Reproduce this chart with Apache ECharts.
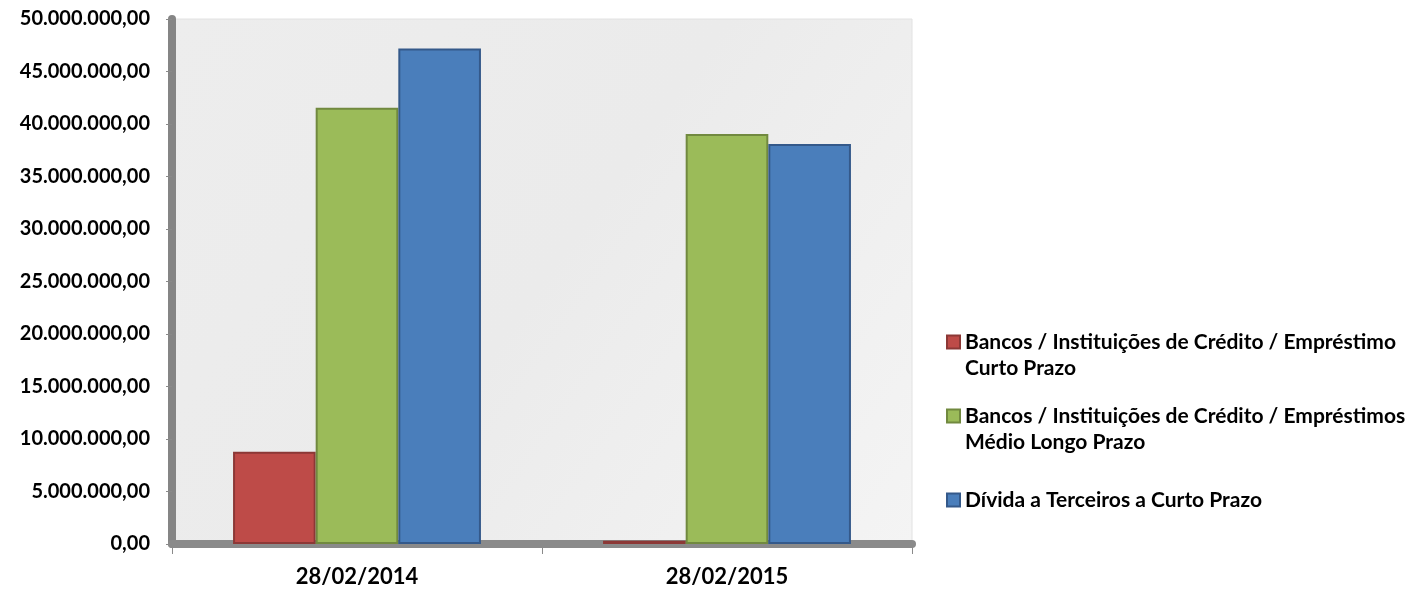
<!DOCTYPE html>
<html>
<head>
<meta charset="utf-8">
<script src="https://cdn.jsdelivr.net/npm/echarts@6/dist/echarts.min.js"></script>
<style>
html,body{margin:0;padding:0;background:#fff;}
#c{width:1415px;height:591px;}
</style>
</head>
<body>
<div id="c"></div>
<script>
const categories = ['28/02/2014', '28/02/2015'];
const seriesNames = [
  'Bancos / Instituições de Crédito / Empréstimo Curto Prazo',
  'Bancos / Instituições de Crédito / Empréstimos Médio Longo Prazo',
  'Dívida a Terceiros a Curto Prazo'
];
const legendLabels = [
  '\nBancos / Instituições de Crédito / Empréstimo\nCurto Prazo',
  '\nBancos / Instituições de Crédito / Empréstimos\nMédio Longo Prazo',
  'Dívida a Terceiros a Curto Prazo'
];
const curtoPrazo = [8780000, 300000];
const medioLongo = [41550000, 39050000];
const dividaTerceiros = [47200000, 38100000];
const colors = ['#be4b48', '#9bbb59', '#4a7ebb'];
const borders = ['#8c3836', '#71893f', '#34598a'];

function fmt(v) {
  const s = Math.round(v).toString().replace(/\B(?=(\d{3})+(?!\d))/g, '.');
  return s + ',00';
}

const data = [curtoPrazo, medioLongo, dividaTerceiros];
const legendTops = [298, 372, 482];
const chart = echarts.init(document.getElementById('c'));
chart.setOption({
  animation: false,
  backgroundColor: '#ffffff',
  textStyle: { fontFamily: 'Lato' },
  grid: {
    left: 172, right: 503, top: 19, bottom: 47,
    show: true,
    backgroundColor: {
      type: 'linear', x: 0, y: 0, x2: 1, y2: 1,
      colorStops: [{ offset: 0, color: '#ededed' }, { offset: 0.5, color: '#ebebeb' }, { offset: 1, color: '#f4f4f4' }]
    },
    borderColor: '#e2e2e2', borderWidth: 1
  },
  legend: seriesNames.map((n, i) => ({
    orient: 'vertical',
    left: 941, top: legendTops[i],
    itemWidth: 13, itemHeight: 13,
    icon: 'rect',
    textStyle: { fontFamily: 'Lato', fontWeight: 'bold', fontSize: 21, color: '#000', lineHeight: 26 },
    formatter: function (name) { return legendLabels[seriesNames.indexOf(name)]; },
    data: [n]
  })),
  xAxis: {
    type: 'category',
    data: categories,
    axisLine: { show: true, lineStyle: { color: '#8a8a8a', width: 8 } },
    axisTick: { show: true, length: 10, lineStyle: { color: '#8a8a8a', width: 1 } },
    axisLabel: { fontFamily: 'Lato', fontWeight: 'bold', fontSize: 22, color: '#000', margin: 22 }
  },
  yAxis: {
    type: 'value',
    min: 0, max: 50000000, interval: 5000000,
    axisLine: { show: true, lineStyle: { color: '#858585', width: 8 } },
    axisTick: { show: true, length: 6, lineStyle: { color: '#8a8a8a' } },
    splitLine: { show: false },
    axisLabel: {
      fontFamily: 'Lato', fontWeight: 'bold', fontSize: 20, color: '#000', margin: 22,
      formatter: fmt
    }
  },
  series: data.map((d, i) => ({
    name: seriesNames[i],
    type: 'bar',
    data: d,
    barGap: '0%',
    barCategoryGap: '33%',
    itemStyle: { color: colors[i], borderColor: borders[i], borderWidth: 2 }
  }))
});
</script>
</body>
</html>
